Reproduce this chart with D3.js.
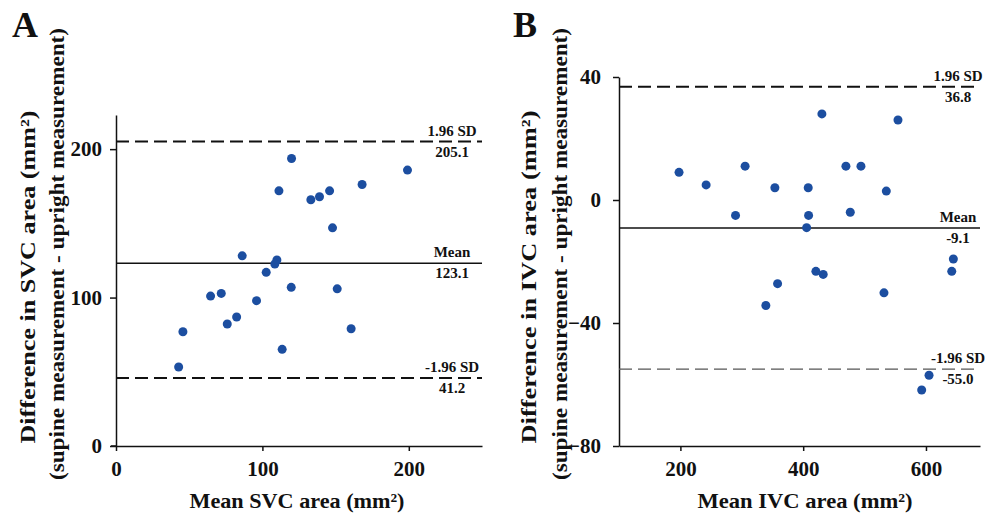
<!DOCTYPE html>
<html>
<head>
<meta charset="utf-8">
<script src="https://cdn.jsdelivr.net/npm/d3@7"></script>
<style>
    body { margin: 0; background: #fff; }
    svg text { font-family: 'Liberation Serif', 'Times New Roman', serif; font-weight: bold; fill: #111; }
</style>
</head>
<body>
<svg id="chart" width="986" height="515"></svg>
<script>
'use strict';

// panel A - SVC
var svcMean = [ 119.9, 199.1, 111.3, 168.1, 133.1, 139.0, 145.9, 147.9, 86.2, 109.9,
    108.5, 102.6, 64.6, 71.9, 119.7, 151.1, 96.0, 82.4, 76.0, 45.7, 160.6, 113.5, 42.8 ];
var svcDiff = [ 193.7, 185.9, 171.9, 176.2, 165.9, 167.9, 171.9, 147.0, 128.1, 125.3,
    122.6, 117.0, 101.0, 102.8, 106.9, 105.9, 97.9, 86.9, 82.2, 77.0, 79.0, 65.1, 53.2 ];
var svcLimits = [ 205.1, 123.1, 45.8 ];
var svcLimitText = [ '205.1', '123.1', '41.2' ];
var svcXTicks = [ 0, 100, 200 ];
var svcYTicks = [ 0, 100, 200 ];

// panel B - IVC
var ivcMean = [ 197.8, 241.9, 305.4, 289.8, 353.9, 408.2, 408.8, 405.6, 430.5, 469.6, 494.1,
    476.7, 535.4, 554.4, 339.2, 358.3, 420.7, 432.6, 531.6, 644.6, 642.0, 605.0, 593.0 ];
var ivcDiff = [ 9.0, 4.9, 11.0, -5.0, 4.0, 4.0, -5.0, -9.0, 28.0, 11.0, 11.0,
    -4.0, 2.9, 26.0, -34.3, -27.2, -23.2, -24.2, -30.2, -19.2, -23.2, -57.0, -61.8 ];
var ivcLimits = [ 36.8, -9.1, -55.0 ];
var ivcLimitText = [ '36.8', '-9.1', '-55.0' ];
var ivcXTicks = [ 200, 400, 600 ];
var ivcYTicks = [ -80, -40, 0, 40 ];

var limitNames = [ '1.96 SD', 'Mean', '-1.96 SD' ];

var svg = d3.select( '#chart' );

function drawPanel( cfg ){
    var g = svg.append( 'g' ),
        x = d3.scaleLinear().domain( cfg.xDomain ).range( cfg.xRange ),
        y = d3.scaleLinear().domain( cfg.yDomain ).range( cfg.yRange );

    g.append( 'text' )
        .attr( 'x', cfg.letterX )
        .attr( 'y', 37 )
        .style( 'font-size', '36px' )
        .text( cfg.letter );

    // axes
    var xAxis = g.append( 'g' )
        .attr( 'transform', 'translate(0,' + cfg.yRange[0] + ')' )
        .call( d3.axisBottom( x ).tickValues( cfg.xTicks ).tickSize( 5 ).tickSizeOuter( 0 ).tickPadding( 10 ) );

    var yAxis = g.append( 'g' )
        .attr( 'transform', 'translate(' + cfg.xRange[0] + ',0)' )
        .call( d3.axisLeft( y ).tickValues( cfg.yTicks ).tickSize( 6 ).tickSizeOuter( 0 ).tickPadding( cfg.yPad ) );

    [ xAxis, yAxis ].forEach(function( a ){
        a.select( '.domain' ).attr( 'stroke', '#111' ).attr( 'stroke-width', 1.5 );
        a.selectAll( '.tick line' ).attr( 'stroke', '#111' ).attr( 'stroke-width', 1.5 );
        a.selectAll( '.tick text' )
            .style( 'font-family', "'Liberation Serif', 'Times New Roman', serif" )
            .style( 'font-weight', 'bold' )
            .style( 'font-size', '21px' )
            .attr( 'fill', '#111' );
    });

    // small overhang of the x axis to the left of the y axis
    if ( cfg.overhang ){
        g.append( 'line' )
            .attr( 'x1', cfg.xRange[0] - cfg.overhang )
            .attr( 'x2', cfg.xRange[0] )
            .attr( 'y1', cfg.yRange[0] )
            .attr( 'y2', cfg.yRange[0] )
            .attr( 'stroke', '#111' )
            .attr( 'stroke-width', 1.5 );
    }

    // titles
    g.append( 'text' )
        .attr( 'x', cfg.xTitleX )
        .attr( 'y', 508 )
        .attr( 'text-anchor', 'middle' )
        .attr( 'textLength', 215 )
        .attr( 'lengthAdjust', 'spacingAndGlyphs' )
        .style( 'font-size', '22px' )
        .text( cfg.xTitle );

    cfg.yTitle.forEach(function( line, i ){
        g.append( 'text' )
            .attr( 'transform', 'translate(' + cfg.yTitleX[i] + ',' + cfg.yTitleY[i] + ') rotate(-90)' )
            .attr( 'text-anchor', 'middle' )
            .attr( 'dy', '0.35em' )
            .attr( 'textLength', cfg.yTitleLen[i] )
            .attr( 'lengthAdjust', 'spacingAndGlyphs' )
            .style( 'font-size', '22px' )
            .text( line );
    });

    // limit lines
    cfg.limits.forEach(function( v, i ){
        var ly = y( v );
        g.append( 'line' )
            .attr( 'x1', cfg.xRange[0] )
            .attr( 'x2', cfg.xRange[1] )
            .attr( 'y1', ly )
            .attr( 'y2', ly )
            .attr( 'stroke', i === 2 && cfg.thinLower ? '#555' : '#111' )
            .attr( 'stroke-width', i === 1 ? 1.5 : ( i === 2 && cfg.thinLower ? 1.2 : 2 ) )
            .attr( 'stroke-dasharray', i === 1 ? null : '13,6' );

        g.append( 'text' )
            .attr( 'x', cfg.labelX )
            .attr( 'y', ly - 6 )
            .attr( 'text-anchor', 'middle' )
            .style( 'font-size', '15px' )
            .text( limitNames[i] );

        g.append( 'text' )
            .attr( 'x', cfg.labelX )
            .attr( 'y', ly + 15 )
            .attr( 'text-anchor', 'middle' )
            .style( 'font-size', '15px' )
            .text( cfg.limitText[i] );
    });

    // points
    g.selectAll( 'circle' )
        .data( cfg.xs.map(function( d, i ){ return [ d, cfg.ys[i] ]; }) )
        .enter().append( 'circle' )
        .attr( 'cx', function( d ){ return x( d[0] ); } )
        .attr( 'cy', function( d ){ return y( d[1] ); } )
        .attr( 'r', 4.5 )
        .attr( 'fill', '#1c4ea0' );
}

drawPanel({
    letter : 'A',
    letterX : 12,
    xDomain : [ 0, 250 ],
    xRange : [ 116, 482 ],
    yDomain : [ 0, 223 ],
    yRange : [ 446, 115 ],
    xTicks : svcXTicks,
    yTicks : svcYTicks,
    yPad : 8,
    overhang : 5,
    xTitleX : 297,
    xTitle : 'Mean SVC area (mm\u00b2)',
    yTitle : [ 'Difference in SVC area (mm\u00b2)', '(supine measurement - upright measurement)' ],
    yTitleX : [ 27, 56 ],
    yTitleY : [ 277, 254 ],
    yTitleLen : [ 333, 452 ],
    limits : svcLimits,
    limitText : svcLimitText,
    labelX : 452,
    thinLower : false,
    xs : svcMean,
    ys : svcDiff
});

drawPanel({
    letter : 'B',
    letterX : 513,
    xDomain : [ 100, 688 ],
    xRange : [ 619, 980 ],
    yDomain : [ -80, 40 ],
    yRange : [ 446, 77 ],
    xTicks : ivcXTicks,
    yTicks : ivcYTicks,
    yPad : 12,
    overhang : 0,
    xTitleX : 805,
    xTitle : 'Mean IVC area (mm\u00b2)',
    yTitle : [ 'Difference in IVC area (mm\u00b2)', '(supine measurement - upright measurement)' ],
    yTitleX : [ 528, 559 ],
    yTitleY : [ 277, 254 ],
    yTitleLen : [ 333, 452 ],
    limits : ivcLimits,
    limitText : ivcLimitText,
    labelX : 958,
    thinLower : true,
    xs : ivcMean,
    ys : ivcDiff
});
</script>
</body>
</html>
